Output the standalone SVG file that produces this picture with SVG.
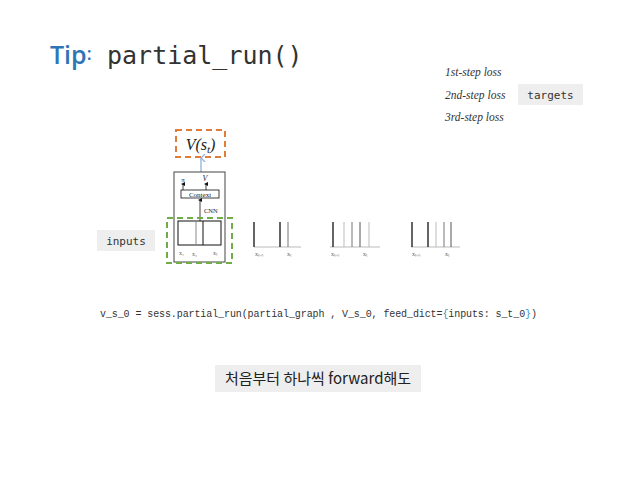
<svg xmlns="http://www.w3.org/2000/svg" width="638" height="479" viewBox="0 0 638 479">
<style>
.mono{font-family:"DejaVu Sans Mono","Liberation Mono",monospace;fill:#333}
.it{font-family:"Liberation Serif",serif;font-style:italic;fill:#333;font-size:11.5px}
.tiny{font-family:"Liberation Serif",serif;font-size:6px;fill:#666}
.chip{fill:#eeeeee}
.bl{stroke:#111;stroke-width:1.3}
.g1{stroke:#777;stroke-width:1}
.g2{stroke:#bbb;stroke-width:1}
.base{stroke:#bbb;stroke-width:1}
</style>
<defs>
<marker id="ab" markerWidth="8" markerHeight="8" refX="4" refY="1" orient="auto-start-reverse" markerUnits="userSpaceOnUse">
<path d="M0,5 L4,1 L8,5" fill="none" stroke="#8fb0dc" stroke-width="1.2"/>
</marker>
<marker id="ak" markerWidth="4" markerHeight="4" refX="2" refY="2" orient="auto" markerUnits="userSpaceOnUse">
<path d="M0,4 L2,0 L4,4 Z" fill="#111"/>
</marker>
</defs>
<rect width="638" height="479" fill="#fff"/>
<g id="title">
<text x="50" y="64" font-family="Open Sans, Liberation Sans, sans-serif" font-size="25" font-weight="600" fill="#2e75b6">Tip<tspan font-size="18" dy="-4">:</tspan></text>
<text x="107" y="64" class="mono" font-size="25">partial_run()</text>
</g>
<g id="losses">
<text x="445" y="76" class="it">1st-step loss</text>
<text x="445" y="99" class="it">2nd-step loss</text>
<text x="445" y="121" class="it">3rd-step loss</text>
</g>
<g id="targets">
<rect class="chip" x="518" y="84" width="65" height="21"/>
<text x="550.5" y="98.5" class="mono" font-size="11" text-anchor="middle">targets</text>
</g>
<g id="value">
<rect x="176" y="130" width="49" height="27" fill="none" stroke="#e07b39" stroke-width="2" stroke-dasharray="6,4"/>
<text x="200.5" y="150" font-family="Liberation Serif, serif" font-style="italic" font-size="16" fill="#222" text-anchor="middle">V(s<tspan font-size="11" dy="3">t</tspan><tspan dy="-3">)</tspan></text>
</g>
<g id="connectors">
<line x1="201" y1="172" x2="201" y2="158" stroke="#8fb0dc" stroke-width="1.3" marker-end="url(#ab)"/>
</g>
<g id="network">
<rect x="174" y="172" width="51" height="90" fill="#fff" stroke="#444" stroke-width="1"/>
<text x="183" y="182" font-family="Liberation Serif, serif" font-size="7" fill="#222" text-anchor="middle">π</text>
<text x="205" y="181" font-family="Liberation Serif, serif" font-style="italic" font-size="8" fill="#222" text-anchor="middle">V</text>
<line x1="183" y1="190" x2="183" y2="184" stroke="#111" stroke-width="0.8" marker-end="url(#ak)"/>
<line x1="206" y1="190" x2="206" y2="184" stroke="#111" stroke-width="0.8" marker-end="url(#ak)"/>
<rect x="181" y="190" width="38" height="8" fill="#fff" stroke="#111" stroke-width="0.8"/>
<text x="200" y="196.5" font-family="Liberation Serif, serif" font-size="7" fill="#222" text-anchor="middle">Context</text>
<line x1="200" y1="221" x2="200" y2="200" stroke="#111" stroke-width="0.8" marker-end="url(#ak)"/>
<text x="204" y="213" font-family="Liberation Serif, serif" font-size="6.5" fill="#222">CNN</text>
<rect x="178" y="221" width="43" height="24" fill="#fff" stroke="#111" stroke-width="1"/>
<line x1="196" y1="221" x2="196" y2="245" stroke="#888" stroke-width="1"/>
<line x1="203" y1="221" x2="203" y2="245" stroke="#111" stroke-width="1"/>
<text x="179" y="255" class="tiny" fill="#222">x₁</text>
<text x="192" y="256" class="tiny">x₂</text>
<text x="213" y="255" class="tiny">xₜ</text>
<rect x="167" y="218" width="65" height="45" fill="none" stroke="#70ad47" stroke-width="2" stroke-dasharray="6,4"/>
</g>
<g id="inputs">
<rect class="chip" x="97" y="230" width="58" height="21"/>
<text x="126" y="244.5" class="mono" font-size="11" text-anchor="middle">inputs</text>
</g>
<g id="seq1">
<line class="base" x1="254" y1="247" x2="301" y2="247"/>
<line class="bl" x1="254" y1="222" x2="254" y2="247"/>
<line class="bl" x1="280" y1="222" x2="280" y2="247"/>
<line class="g1" x1="288" y1="222" x2="288" y2="247"/>
<text x="255" y="256" class="tiny">xₜ₋ₙ</text>
<text x="287" y="256" class="tiny">xₜ</text>
</g>
<g id="seq2">
<line class="base" x1="330" y1="247" x2="380" y2="247"/>
<line class="bl" x1="333" y1="222" x2="333" y2="247"/>
<line class="g2" x1="344" y1="222" x2="344" y2="247"/>
<line class="g1" x1="352" y1="222" x2="352" y2="247"/>
<line class="g1" x1="360" y1="222" x2="360" y2="247" style="stroke:#555"/>
<line class="g2" x1="369" y1="222" x2="369" y2="247"/>
<text x="331" y="256" class="tiny">xₜ₋ₙ</text>
<text x="363" y="256" class="tiny">xₜ</text>
</g>
<g id="seq3">
<line class="base" x1="411" y1="247" x2="460" y2="247"/>
<line class="bl" x1="412" y1="222" x2="412" y2="247"/>
<line class="bl" x1="428" y1="222" x2="428" y2="247"/>
<line class="g2" x1="436" y1="222" x2="436" y2="247"/>
<line class="g1" x1="444" y1="222" x2="444" y2="247"/>
<line class="g1" x1="451" y1="222" x2="451" y2="247" style="stroke:#555"/>
<text x="412" y="256" class="tiny">xₜ₋ₙ</text>
<text x="445" y="256" class="tiny">xₜ</text>
</g>
<g id="code">
<text x="100" y="317" font-family="Liberation Mono, monospace" font-size="10" fill="#333" textLength="437" lengthAdjust="spacing">v_s_0 = sess.partial_run(partial_graph , V_s_0, feed_dict=<tspan fill="#3a8fb7">{</tspan>inputs: s_t_0<tspan fill="#3a8fb7">}</tspan>)</text>
</g>
<g id="note">
<rect class="chip" x="215" y="365" width="206" height="27"/>
<text x="318" y="384" font-family="Noto Sans CJK KR, Noto Sans, sans-serif" font-size="15" fill="#222" text-anchor="middle">처음부터 하나씩 forward해도</text>
</g>
</svg>
